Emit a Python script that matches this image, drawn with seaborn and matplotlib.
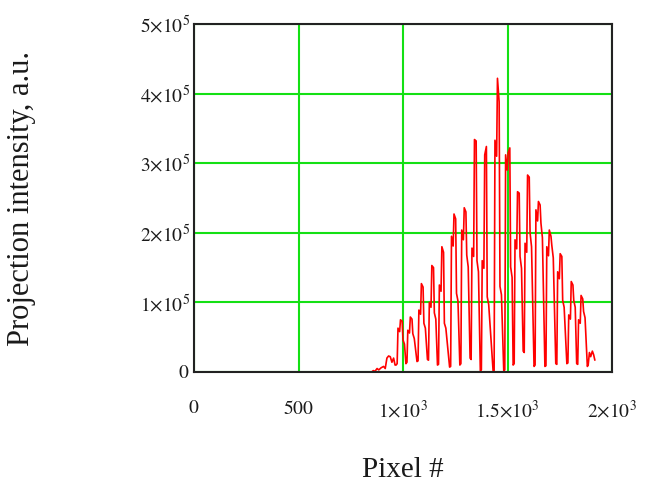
import matplotlib
matplotlib.use("Agg")
import matplotlib.pyplot as plt
import seaborn as sns
import pandas as pd

# ---- data (pixel #, projection intensity in units of 1e5) ----
pixel = [0, 850, 858, 866, 876, 884, 895, 907, 915, 923, 931, 939, 947, 955, 962,
         967, 972, 976, 984, 988, 996, 1000, 1007,
         1014, 1019, 1023, 1031, 1035, 1043, 1047, 1054,
         1067, 1072, 1076, 1084, 1088, 1096, 1100, 1107,
         1117, 1122, 1126, 1134, 1138, 1146, 1150, 1157,
         1165, 1170, 1174, 1182, 1186, 1194, 1198, 1205,
         1223, 1228, 1232, 1240, 1244, 1252, 1256, 1263,
         1272, 1277, 1281, 1289, 1293, 1301, 1305, 1312,
         1321, 1326, 1330, 1338, 1342, 1350, 1354, 1361,
         1370, 1375, 1379, 1387, 1391, 1399, 1403, 1410,
         1431, 1436, 1440, 1448, 1452, 1460, 1464, 1471,
         1482, 1487, 1491, 1499, 1503, 1511, 1515, 1522,
         1527, 1532, 1536, 1544, 1548, 1556, 1560, 1567,
         1575, 1580, 1584, 1592, 1596, 1604, 1608, 1615,
         1627, 1632, 1636, 1644, 1648, 1656, 1660, 1667,
         1679, 1684, 1688, 1696, 1700, 1708, 1712, 1719,
         1731, 1736, 1740, 1748, 1752, 1760, 1764, 1771,
         1784, 1789, 1793, 1801, 1805, 1813, 1817, 1824,
         1831, 1836, 1840, 1848, 1852, 1860, 1864, 1871,
         1882, 1886, 1892, 1898, 1906, 1912, 1918]
intensity = [0, 0, 0.02, 0.01, 0.05, 0.03, 0.06, 0.08, 0.05, 0.20, 0.23, 0.22, 0.14, 0.20, 0.10,
             0.10, 0.12, 0.63, 0.58, 0.75, 0.73, 0.46, 0.40,
             0.12, 0.14, 0.60, 0.56, 0.79, 0.76, 0.55, 0.48,
             0.15, 0.16, 0.89, 0.83, 1.27, 1.22, 0.70, 0.63,
             0.18, 0.17, 1.00, 0.93, 1.53, 1.50, 0.85, 0.76,
             0.10, 0.11, 1.25, 1.16, 1.80, 1.72, 0.70, 0.63,
             0.07, 0.08, 1.95, 1.81, 2.27, 2.20, 1.13, 1.02,
             0.10, 0.12, 2.04, 1.90, 2.36, 2.30, 1.68, 1.51,
             0.20, 0.18, 1.78, 1.66, 3.34, 3.32, 1.60, 1.44,
             0.02, 0.03, 1.60, 1.49, 3.12, 3.24, 1.08, 0.97,
             0.02, 0.02, 3.33, 3.10, 4.22, 3.88, 1.23, 1.11,
             0.02, 0.03, 3.12, 2.90, 3.15, 3.22, 1.51, 1.36,
             0.10, 0.12, 1.90, 1.77, 2.59, 2.57, 1.66, 1.49,
             0.30, 0.28, 1.85, 1.72, 2.83, 2.80, 2.00, 1.80,
             0.08, 0.10, 2.33, 2.17, 2.45, 2.40, 2.14, 1.93,
             0.08, 0.09, 1.80, 1.67, 2.04, 1.95, 1.82, 1.64,
             0.12, 0.11, 1.44, 1.34, 1.70, 1.66, 1.03, 0.93,
             0.12, 0.13, 0.82, 0.76, 1.30, 1.25, 1.03, 0.93,
             0.12, 0.11, 0.75, 0.70, 1.10, 1.05, 0.87, 0.78,
             0.08, 0.10, 0.28, 0.22, 0.30, 0.25, 0.17]
intensity = [v * 1e5 for v in intensity]

x_ticks = [0, 500, 1000, 1500, 2000]
x_ticklabels = [r"$0$", r"$500$", r"$1{\times}10^{3}$", r"$1.5{\times}10^{3}$", r"$2{\times}10^{3}$"]
y_ticks = [0, 1e5, 2e5, 3e5, 4e5, 5e5]
y_ticklabels = [r"$0$", r"$1{\times}10^{5}$", r"$2{\times}10^{5}$", r"$3{\times}10^{5}$",
                r"$4{\times}10^{5}$", r"$5{\times}10^{5}$"]

df = pd.DataFrame({"pixel": pixel, "intensity": intensity})

sns.set_theme(style="white")
plt.rcParams["font.family"] = ["Liberation Serif", "DejaVu Serif"]
plt.rcParams["mathtext.fontset"] = "stix"

fig = plt.figure(figsize=(6.5, 4.86), dpi=100)
ax = fig.add_axes([194 / 650, 1 - 372 / 486, 418 / 650, 348 / 486])

sns.lineplot(data=df, x="pixel", y="intensity", ax=ax, color="#ff0000",
             linewidth=1.2, estimator=None, sort=False)

ax.set_xlim(0, 2000)
ax.set_ylim(0, 5e5)
ax.set_xticks(x_ticks)
ax.set_xticklabels(x_ticklabels)
ax.set_yticks(y_ticks)
ax.set_yticklabels(y_ticklabels)
ax.tick_params(axis="x", length=0, pad=20, labelsize=14, colors="#1a1a1a")
ax.tick_params(axis="y", length=0, pad=3, labelsize=14, colors="#1a1a1a")

ax.set_axisbelow(True)
ax.grid(True, color="#14e014", linewidth=1.5)
for s in ax.spines.values():
    s.set_visible(True)
    s.set_color("#222222")
    s.set_linewidth(1.5)

ax.set_xlabel("Pixel #", fontsize=21, color="#1a1a1a")
ax.xaxis.label.set_va("center")
ax.xaxis.set_label_coords(0.5, (372 - 470) / 348)
ax.set_ylabel("Projection intensity, a.u.", fontsize=22, color="#1a1a1a")
ax.yaxis.label.set_va("center")
ax.yaxis.set_label_coords((22 - 194) / 418, 0.5)

fig.savefig("out.png", dpi=100)
